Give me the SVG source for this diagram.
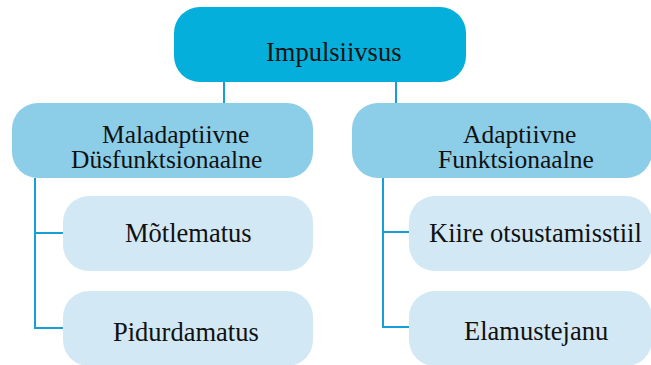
<svg xmlns="http://www.w3.org/2000/svg" width="651" height="365" viewBox="0 0 651 365">
<style>
text{font-family:"Liberation Serif",Tinos,"Times New Roman","DejaVu Serif",serif;font-size:26.5px;fill:#111}
.s{font-size:25.5px}
.n0{fill:#04afdb}
.n1{fill:#8ccde8}
.n2{fill:#d2e8f4}
.c{stroke:#159fd6;stroke-width:2;fill:none}
</style>
<rect width="651" height="365" fill="#fff"/>
<g id="connectors">
<path class="c" d="M224 82V103M396 82V103"/>
<path class="c" d="M35 178V328H63M35 233H63"/>
<path class="c" d="M383 178V327H409M383 232H409"/>
</g>
<g id="impulsiivsus">
<rect class="n0" x="174" y="7" width="292" height="75" rx="26"/>
<text x="266" y="61">Impulsiivsus</text>
</g>
<g id="maladaptiivne">
<rect class="n1" x="12" y="103" width="301" height="75" rx="26"/>
<text class="s" x="102" y="143">Maladaptiivne</text>
<text class="s" x="71" y="168">Düsfunktsionaalne</text>
</g>
<g id="adaptiivne">
<rect class="n1" x="352" y="103" width="300" height="75" rx="26"/>
<text class="s" x="463" y="143">Adaptiivne</text>
<text class="s" x="438" y="168">Funktsionaalne</text>
</g>
<g id="motlematus">
<rect class="n2" x="63" y="196" width="250" height="75" rx="26"/>
<text x="125" y="242">Mõtlematus</text>
</g>
<g id="pidurdamatus">
<rect class="n2" x="63" y="291" width="250" height="75" rx="26"/>
<text x="113" y="341">Pidurdamatus</text>
</g>
<g id="kiire">
<rect class="n2" x="409" y="196" width="243" height="75" rx="26"/>
<text x="429" y="242">Kiire otsustamisstiil</text>
</g>
<g id="elamustejanu">
<rect class="n2" x="409" y="291" width="243" height="75" rx="26"/>
<text x="464" y="340">Elamustejanu</text>
</g>
</svg>
